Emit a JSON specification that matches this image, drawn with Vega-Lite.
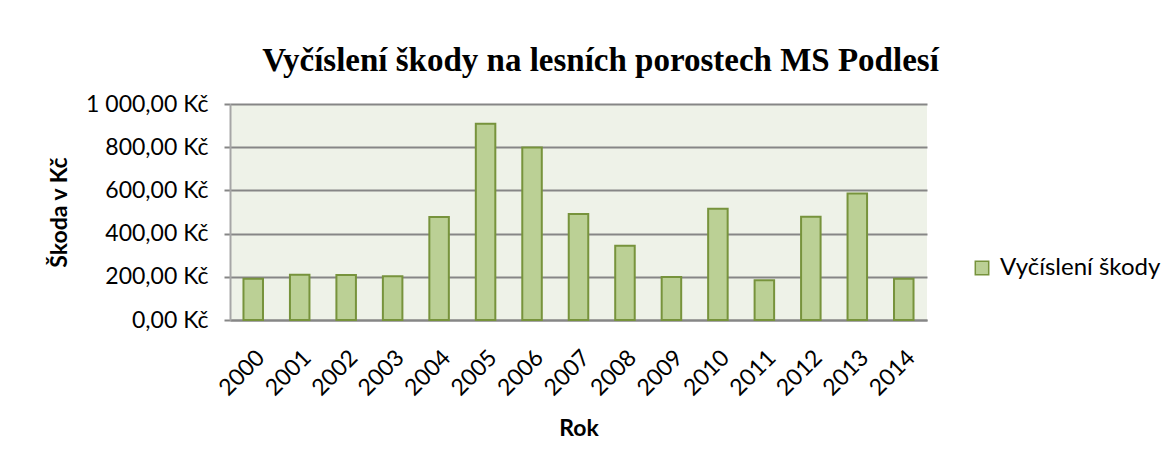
{
  "$schema": "https://vega.github.io/schema/vega-lite/v6.json",
  "autosize": "none",
  "width": 697,
  "height": 216,
  "padding": {"left": 230, "top": 104, "right": 243, "bottom": 146},
  "background": "white",
  "title": {
    "text": "Vyčíslení škody na lesních porostech MS Podlesí",
    "font": "Liberation Serif",
    "fontSize": 33,
    "fontWeight": "bold",
    "color": "#000000",
    "anchor": "middle",
    "dx": 22,
    "offset": 15
  },
  "data": {
    "values": [
      {"rok": "2000", "skoda": 191},
      {"rok": "2001", "skoda": 210},
      {"rok": "2002", "skoda": 208},
      {"rok": "2003", "skoda": 202},
      {"rok": "2004", "skoda": 477},
      {"rok": "2005", "skoda": 909},
      {"rok": "2006", "skoda": 799},
      {"rok": "2007", "skoda": 491},
      {"rok": "2008", "skoda": 344},
      {"rok": "2009", "skoda": 199},
      {"rok": "2010", "skoda": 515},
      {"rok": "2011", "skoda": 184},
      {"rok": "2012", "skoda": 478},
      {"rok": "2013", "skoda": 586},
      {"rok": "2014", "skoda": 191}
    ]
  },
  "mark": {"type": "bar", "stroke": "#77933C", "strokeWidth": 2},
  "encoding": {
    "x": {
      "field": "rok",
      "type": "ordinal",
      "title": "Rok",
      "scale": {"paddingInner": 0.58, "paddingOuter": 0.29},
      "axis": {
        "labelAngle": -45,
        "labelFont": "Lato",
        "labelFontSize": 23,
        "labelColor": "#000000",
        "labelPadding": 26,
        "labelOverlap": false,
        "ticks": false,
        "domainColor": "#868686",
        "domainWidth": 2,
        "titleFont": "Lato",
        "titleFontSize": 23,
        "titleFontWeight": "bold",
        "titleColor": "#000000",
        "titlePadding": 18
      }
    },
    "y": {
      "field": "skoda",
      "type": "quantitative",
      "title": "Škoda v Kč",
      "scale": {"domain": [0, 1000]},
      "axis": {
        "values": [0, 200, 400, 600, 800, 1000],
        "labelExpr": "replace(replace(format(datum.value, ',.2f'), ',', ' '), '.', ',') + ' Kč'",
        "labelFont": "Lato",
        "labelFontSize": 23,
        "labelColor": "#000000",
        "labelPadding": 16,
        "tickSize": 6,
        "tickColor": "#868686",
        "tickWidth": 2,
        "domainColor": "#A6A6A6",
        "domainWidth": 2,
        "grid": true,
        "gridColor": "#868686",
        "gridWidth": 2,
        "titleFont": "Lato",
        "titleFontSize": 23,
        "titleFontWeight": "bold",
        "titleColor": "#000000",
        "titlePadding": 14
      }
    },
    "color": {
      "datum": "Vyčíslení škody",
      "type": "nominal",
      "scale": {"range": ["#BBD095"]},
      "legend": {
        "title": null,
        "orient": "none",
        "legendX": 740,
        "legendY": 152,
        "symbolType": "square",
        "symbolSize": 180,
        "symbolStrokeColor": "#77933C",
        "symbolStrokeWidth": 1.5,
        "labelFont": "Lato",
        "labelFontSize": 24,
        "labelColor": "#000000",
        "labelOffset": 6,
        "labelLimit": 400
      }
    }
  },
  "config": {
    "view": {"fill": "#EEF2E8", "stroke": null}
  }
}
